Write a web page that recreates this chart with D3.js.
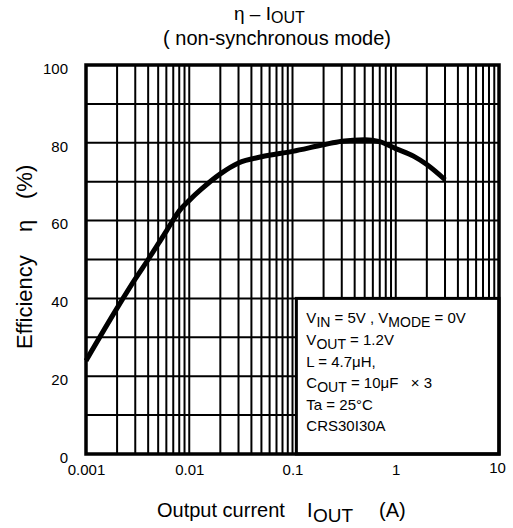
<!DOCTYPE html>
<html>
<head>
<meta charset="utf-8">
<script src="https://cdn.jsdelivr.net/npm/d3@7"></script>
<style>
  body { margin: 0; background: #fff; }
  text { font-family: "Liberation Sans", Arial, sans-serif; fill: #000; }
</style>
</head>
<body>
<div id="chart"></div>
<script>
const width = 513, height = 528;

// efficiency curve
const iout = [0.001, 0.002, 0.003, 0.004, 0.005, 0.006, 0.007, 0.008, 0.01, 0.013, 0.02, 0.03, 0.05, 0.1, 0.2, 0.3, 0.5, 0.7, 1, 1.5, 2, 3];
const eff = [24, 37.5, 45, 50, 54, 57.3, 60.2, 62.5, 65.2, 68, 72, 74.8, 76.4, 77.8, 79.5, 80.4, 80.8, 80.3, 78.5, 76.5, 74.4, 70.5];

const xTicks = [0.001, 0.01, 0.1, 1, 10];
const xTickLabels = ["0.001", "0.01", "0.1", "1", "10"];
const yTicks = [0, 20, 40, 60, 80, 100];

// condition box lines: [text, kind]
const notes = [
    [["V", ""], ["IN", "sub"], [" = 5V , V", ""], ["MODE", "sub"], [" = 0V", ""]],
    [["V", ""], ["OUT", "sub"], [" = 1.2V", ""]],
    [["L = 4.7\u03bcH,", ""]],
    [["C", ""], ["OUT", "sub"], [" = 10\u03bcF   \u00d7 3", ""]],
    [["Ta = 25\u00b0C", ""]],
    [["CRS30I30A", ""]]
];

const svg = d3.select("#chart")
    .append("svg")
    .attr("width", width)
    .attr("height", height);

const xScale = d3.scaleLog()
    .domain([0.001, 10])
    .range([86, 499]);

const yScale = d3.scaleLinear()
    .domain([0, 100])
    .range([454, 65]);

// log gridlines
const xGrid = [];
[0.001, 0.01, 0.1, 1].forEach(dec => {
    for (let k = 2; k <= 9; k++) xGrid.push(dec * k);
});
[0.01, 0.1, 1].forEach(v => xGrid.push(v));

svg.append("g")
    .selectAll("line")
    .data(xGrid)
    .join("line")
    .attr("x1", d => xScale(d))
    .attr("x2", d => xScale(d))
    .attr("y1", yScale(0))
    .attr("y2", yScale(100))
    .attr("stroke", "#000")
    .attr("stroke-width", 2);

svg.append("g")
    .selectAll("line")
    .data(d3.range(10, 100, 10))
    .join("line")
    .attr("x1", xScale(0.001))
    .attr("x2", xScale(10))
    .attr("y1", d => yScale(d))
    .attr("y2", d => yScale(d))
    .attr("stroke", "#000")
    .attr("stroke-width", 2);

// efficiency curve
const line = d3.line()
    .x(d => xScale(d[0]))
    .y(d => yScale(d[1]))
    .curve(d3.curveMonotoneX);

svg.append("path")
    .datum(iout.map((v, i) => [v, eff[i]]))
    .attr("d", line)
    .attr("fill", "none")
    .attr("stroke", "#000")
    .attr("stroke-width", 5);

// condition box
const boxX = xScale(0.109), boxY = yScale(40);
svg.append("rect")
    .attr("x", boxX)
    .attr("y", boxY)
    .attr("width", xScale(10) - boxX)
    .attr("height", yScale(0) - boxY)
    .attr("fill", "#fff")
    .attr("stroke", "#000")
    .attr("stroke-width", 3);

notes.forEach((parts, i) => {
    const t = svg.append("text")
        .attr("x", boxX + 10)
        .attr("y", boxY + 25 + i * 21.6)
        .attr("font-size", 15)
        .attr("xml:space", "preserve");
    let low = false;
    parts.forEach(p => {
        const s = t.append("tspan").text(p[0]);
        if (p[1] === "sub") { s.attr("font-size", 14).attr("dy", low ? 0 : 4); low = true; }
        else if (low) { s.attr("dy", -4); low = false; }
    });
});

// plot frame
svg.append("rect")
    .attr("x", xScale(0.001))
    .attr("y", yScale(100))
    .attr("width", xScale(10) - xScale(0.001))
    .attr("height", yScale(0) - yScale(100))
    .attr("fill", "none")
    .attr("stroke", "#000")
    .attr("stroke-width", 3.5);

// axes (labels only)
const bottomAxis = d3.axisBottom(xScale)
    .tickValues(xTicks)
    .tickFormat((d, i) => xTickLabels[i])
    .tickSize(0)
    .tickPadding(10);
const gx = svg.append("g")
    .attr("transform", `translate(0,${yScale(0)})`)
    .call(bottomAxis);
gx.select(".domain").remove();
gx.selectAll("text")
    .attr("font-size", 15)
    .attr("font-family", "Liberation Sans, Arial, sans-serif");
gx.selectAll(".tick").filter(d => d === 10).select("text")
    .attr("dy", "0.58em").attr("dx", -2);

const leftAxis = d3.axisLeft(yScale)
    .tickValues(yTicks)
    .tickSize(0)
    .tickPadding(18);
const gy = svg.append("g")
    .attr("transform", `translate(${xScale(0.001)},0)`)
    .call(leftAxis);
gy.select(".domain").remove();
gy.selectAll("text")
    .attr("font-size", 15)
    .attr("dy", "0.55em")
    .attr("font-family", "Liberation Sans, Arial, sans-serif");

// title
const title = svg.append("text")
    .attr("x", 234)
    .attr("y", 20)
    .attr("font-size", 19);
title.append("tspan").text("\u03b7 \u2013 I");
title.append("tspan").text("OUT").attr("font-size", 16).attr("dy", 3);

svg.append("text")
    .attr("x", 277)
    .attr("y", 45)
    .attr("text-anchor", "middle")
    .attr("font-size", 20)
    .text("( non-synchronous mode)");

// x axis label
const xl = svg.append("text")
    .attr("y", 517)
    .attr("font-size", 20);
xl.append("tspan").attr("x", 157).text("Output current");
xl.append("tspan").attr("x", 307).text("I");
xl.append("tspan").attr("x", 313).attr("dy", 5).attr("font-size", 19).text("OUT");
xl.append("tspan").attr("x", 379).attr("dy", -5).text("(A)");

// y axis label
const yl = svg.append("text")
    .attr("transform", "translate(32,0) rotate(-90)")
    .attr("font-size", 22);
yl.append("tspan").attr("x", -349).text("Efficiency");
yl.append("tspan").attr("x", -232).text("\u03b7");
yl.append("tspan").attr("x", -199).text("(%)");
</script>
</body>
</html>
